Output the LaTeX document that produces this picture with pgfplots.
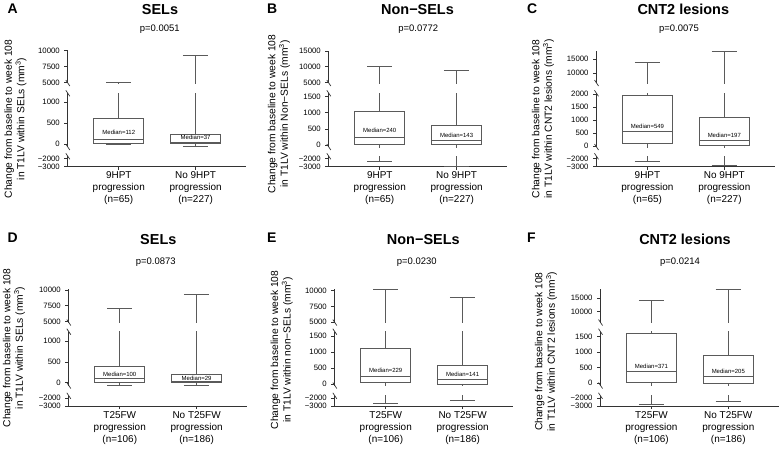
\documentclass[border=0pt]{standalone}
\usepackage{fontspec}
\setmainfont{Liberation Sans}
\usepackage{pgfplots}
\pgfplotsset{compat=1.18}
\usepgfplotslibrary{statistics}
\definecolor{boxc}{HTML}{5A5A5A}
\definecolor{axc}{HTML}{333333}

\pgfplotsset{
  base/.style={scale only axis, anchor=north west, width=179bp, xmin=0.33, xmax=2.66,
    axis y line*=left, clip mode=individual,
    scaled y ticks=false,
    tick align=outside, major tick length=3bp, tick style={axc, line width=0.7bp},
    axis line style={axc, line width=0.8bp},
    yticklabel style={font=\fontsize{7.8}{8}\selectfont, xshift=-1bp},
    boxplot/draw direction=y},
  seg/.style={base, axis x line=none, xtick=\empty},
  lowseg/.style={base, axis x line*=bottom, ymin=-3000, ymax=-1700, ytick={-3000,-2000},
    yticklabels={−3000,−2000}, xtick={1,2},
    xticklabel style={align=center, font=\fontsize{10}{12.2}\selectfont, yshift=1.5bp}},
  brkbot/.style={after end axis/.append code={\draw[axc,line width=0.7bp] ([xshift=-1.5bp,yshift=3bp]rel axis cs:0,0) -- ++(4bp,-6bp);}},
  brktop/.style={after end axis/.append code={\draw[axc,line width=0.7bp] ([xshift=-1.5bp,yshift=3bp]rel axis cs:0,1) -- ++(4bp,-6bp);}},
  bx/.style={draw=boxc, line width=0.9bp, solid, boxplot/box extend=0.65, boxplot/whisker extend=0.33},
  rowIup/.style={at={(\px bp,-50.5bp)}, height=32.5bp},
  rowImid/.style={at={(\px bp,-93.3bp)}, height=53.7bp},
  rowIlow/.style={at={(\px bp,-156.3bp)}, height=10.2bp},
  rowIIup/.style={at={(\px bp,-289bp)}, height=33.5bp},
  rowIImid/.style={at={(\px bp,-331.7bp)}, height=53.8bp},
  rowIIlow/.style={at={(\px bp,-395.8bp)}, height=10.4bp},
}

\newcommand{\twoboxes}[2]{%
  \addplot[bx, boxplot prepared={draw position=1,#1}] coordinates {};
  \addplot[bx, boxplot prepared={draw position=2,#2}] coordinates {};
}
\newcommand{\panel}[7]{%
  \def\px{#1}%
  \begin{axis}[seg, brkbot, row#2up, #3] #5 \end{axis}
  \begin{axis}[seg, brktop, brkbot, row#2mid, #4] #5 #7 \end{axis}
  \begin{axis}[lowseg, brktop, row#2low, xticklabels={#6}] #5 \end{axis}
}
\newcommand{\med}[2]{\node[font=\fontsize{6}{6.5}\selectfont, inner sep=0pt] at (axis cs:#1) {#2};}

\begin{document}
\begin{tikzpicture}
\useasboundingbox (0,0) rectangle (780bp,-451bp);

% ---------- Panel A ----------
\panel{67.3}{I}
 {ymin=4922, ymax=10031, ytick={5000,7500,10000}, yticklabels={5000,7500,10000}}
 {ymin=-72, ymax=1216, ytick={0,500,1000}, yticklabels={0,500,1000}}
 {\twoboxes{median=112,upper quartile=607,lower quartile=15,upper whisker=5030,lower whisker=-7}
           {median=37,upper quartile=232,lower quartile=5,upper whisker=9280,lower whisker=-60}}
 {9HPT\\progression\\(n=65), No 9HPT\\progression\\(n=227)}
 {\med{1,271}{Median=112}\med{2,168}{Median=37}}

% ---------- Panel B ----------
\panel{328.3}{I}
 {ymin=4808, ymax=15159, ytick={5000,10000,15000}, yticklabels={5000,10000,15000}}
 {ymin=-62, ymax=1606, ytick={0,500,1000,1500}, yticklabels={0,500,1000,1500}}
 {\twoboxes{median=240,upper quartile=1055,lower quartile=22,upper whisker=10200,lower whisker=-2300}
           {median=143,upper quartile=612,lower quartile=22,upper whisker=8900,lower whisker=-2930}}
 {9HPT\\progression\\(n=65), No 9HPT\\progression\\(n=227)}
 {\med{1,444}{Median=240}\med{2,310}{Median=143}}

% ---------- Panel C ----------
\panel{596}{I}
 {ymin=6350, ymax=18212, ytick={10000,15000}, yticklabels={10000,15000}}
 {ymin=-38, ymax=2027, ytick={0,500,1000,1500,2000}, yticklabels={0,500,1000,1500,2000}}
 {\twoboxes{median=549,upper quartile=1950,lower quartile=90,upper whisker=13900,lower whisker=-2375}
           {median=197,upper quartile=1090,lower quartile=27,upper whisker=17950,lower whisker=-2850}}
 {9HPT\\progression\\(n=65), No 9HPT\\progression\\(n=227)}
 {\med{1,770}{Median=549}\med{2,396}{Median=197}}

% ---------- Panel D ----------
\panel{68.3}{II}
 {ymin=4825, ymax=10159, ytick={5000,7500,10000}, yticklabels={5000,7500,10000}}
 {ymin=-67, ymax=1226, ytick={0,500,1000}, yticklabels={0,500,1000}}
 {\twoboxes{median=100,upper quartile=394,lower quartile=8,upper whisker=7130,lower whisker=-62}
           {median=29,upper quartile=192,lower quartile=8,upper whisker=9250,lower whisker=-62}}
 {T25FW\\progression\\(n=106), No T25FW\\progression\\(n=186)}
 {\med{1,202}{Median=100}\med{2,105}{Median=29}}

% ---------- Panel E ----------
\panel{334.3}{II}
 {ymin=4921, ymax=10271, ytick={5000,7500,10000}, yticklabels={5000,7500,10000}}
 {ymin=-47, ymax=1634, ytick={0,500,1000,1500}, yticklabels={0,500,1000,1500}}
 {\twoboxes{median=229,upper quartile=1103,lower quartile=40,upper whisker=10200,lower whisker=-2650}
           {median=141,upper quartile=572,lower quartile=0,upper whisker=8970,lower whisker=-2300}}
 {T25FW\\progression\\(n=106), No T25FW\\progression\\(n=186)}
 {\med{1,416}{Median=229}\med{2,303}{Median=141}}

% ---------- Panel F ----------
\panel{600}{II}
 {ymin=5973, ymax=18469, ytick={10000,15000}, yticklabels={10000,15000}}
 {ymin=-71, ymax=1659, ytick={0,500,1000,1500}, yticklabels={0,500,1000,1500}}
 {\twoboxes{median=371,upper quartile=1592,lower quartile=42,upper whisker=14250,lower whisker=-2740}
           {median=205,upper quartile=892,lower quartile=0,upper whisker=18300,lower whisker=-2440}}
 {T25FW\\progression\\(n=106), No T25FW\\progression\\(n=186)}
 {\med{1,551}{Median=371}\med{2,392}{Median=205}}

% ---------- texts ----------
\tikzset{lett/.style={anchor=base west, font=\bfseries\fontsize{14}{14}\selectfont},
  ttl/.style={anchor=base, font=\bfseries\fontsize{14.5}{15}\selectfont},
  pv/.style={anchor=base, font=\fontsize{9.5}{10}\selectfont},
  yl/.style={rotate=90, align=center, font=\fontsize{10.3}{12.4}\selectfont}}
\node[lett] at (4bp,-13.3bp) {A};
\node[lett] at (263.5bp,-13.3bp) {B};
\node[lett] at (523.5bp,-13.3bp) {C};
\node[lett] at (4bp,-242bp) {D};
\node[lett] at (263.5bp,-242bp) {E};
\node[lett] at (523.5bp,-242bp) {F};

\node[ttl] at (160bp,-14bp) {SELs};
\node[ttl] at (417.5bp,-14bp) {Non−SELs};
\node[ttl] at (683.3bp,-14bp) {CNT2 lesions};
\node[ttl] at (158.3bp,-244bp) {SELs};
\node[ttl] at (423.3bp,-244bp) {Non−SELs};
\node[ttl] at (685bp,-244bp) {CNT2 lesions};

\node[pv] at (159.7bp,-31.5bp) {p=0.0051};
\node[pv] at (418.3bp,-31.5bp) {p=0.0772};
\node[pv] at (679bp,-31.5bp) {p=0.0075};
\node[pv] at (155.8bp,-264.5bp) {p=0.0873};
\node[pv] at (416.7bp,-264.5bp) {p=0.0230};
\node[pv] at (680bp,-264.5bp) {p=0.0214};

\node[yl] at (15.5bp,-119bp) {Change from baseline to week 108\\in T1LV within SELs (mm\textsuperscript{3})};
\node[yl] at (279bp,-114bp) {Change from baseline to week 108\\in T1LV within Non−SELs (mm\textsuperscript{3})};
\node[yl] at (543bp,-119bp) {Change from baseline to week 108\\in T1LV within CNT2 lesions (mm\textsuperscript{3})};
\node[yl] at (14bp,-348bp) {Change from baseline to week 108\\in T1LV within SELs (mm\textsuperscript{3})};
\node[yl] at (281.7bp,-350bp) {Change from baseline to week 108\\in T1LV within non−SELs (mm\textsuperscript{3})};
\node[yl] at (546bp,-351.7bp) {Change from baseline to week 108\\in T1LV within CNT2 lesions (mm\textsuperscript{3})};
\end{tikzpicture}
\end{document}
